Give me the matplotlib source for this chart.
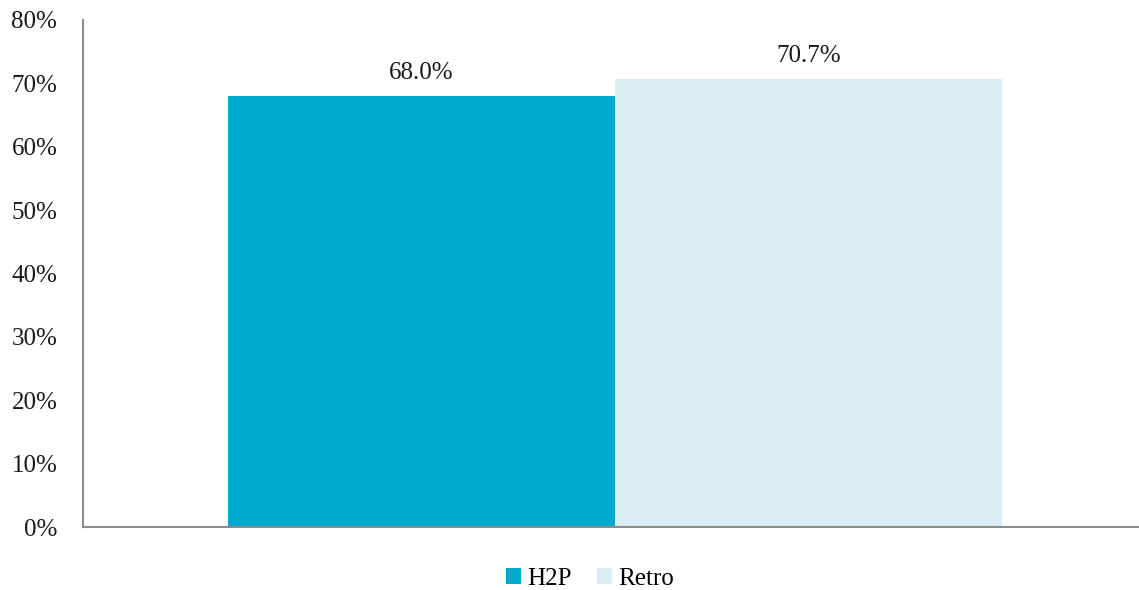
import matplotlib
matplotlib.use("Agg")
import matplotlib.pyplot as plt
from matplotlib.ticker import FuncFormatter

series = ["H2P", "Retro"]
values = [68.0, 70.7]
colors = ["#00A9CE", "#DAEDF3"]
yticks = [0, 10, 20, 30, 40, 50, 60, 70, 80]

plt.rcParams["font.family"] = ["Liberation Serif", "DejaVu Serif"]

fig = plt.figure(figsize=(11.39, 5.90), dpi=100)
ax = fig.add_axes([83 / 1139, 1 - 527 / 590, 1056 / 1139, 507 / 590])

bar_w = 387 / 1056
offsets = [-bar_w / 2, bar_w / 2]
for name, val, col, off in zip(series, values, colors, offsets):
    ax.bar(off, val, width=bar_w, color=col, label=name, zorder=2)
    ax.text(off, val + 1.9, f"{val:.1f}%", ha="center", va="bottom",
            fontsize=18, color="#1a1a1a")

ax.set_xlim(-0.5038, 0.4962)
ax.set_ylim(0, 80)
ax.set_yticks(yticks)
ax.yaxis.set_major_formatter(FuncFormatter(lambda v, p: f"{v:.0f}%"))
ax.set_xticks([])
ax.tick_params(axis="y", length=0, pad=18.5, labelsize=18, labelcolor="#1a1a1a")

for s in ["top", "right"]:
    ax.spines[s].set_visible(False)
for s in ["left", "bottom"]:
    ax.spines[s].set_color("#8c8c8c")
    ax.spines[s].set_linewidth(1.5)

fig.legend(loc="center", bbox_to_anchor=(590 / 1139, 1 - 579 / 590), ncol=2,
           frameon=False, fontsize=18, handlelength=0.6, handleheight=0.6,
           handletextpad=0.25, columnspacing=1.0)

fig.savefig("out.png", dpi=100)
